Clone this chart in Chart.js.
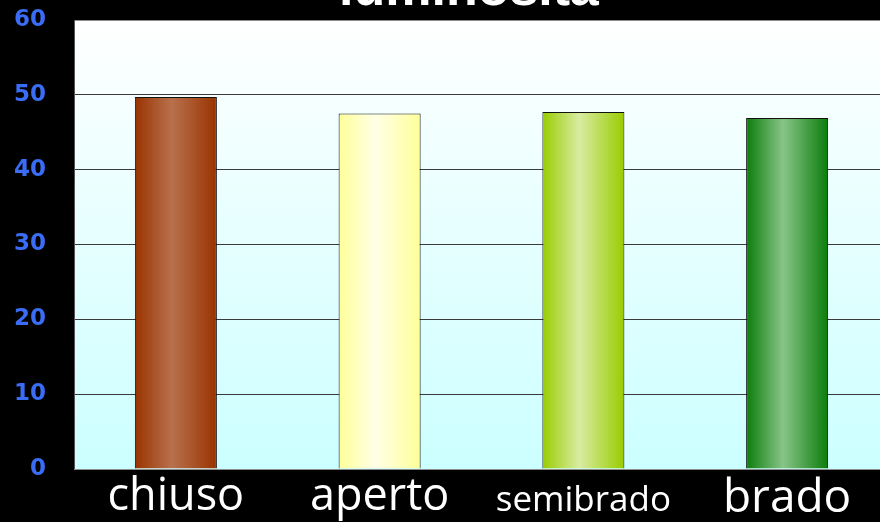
<!DOCTYPE html>
<html>
<head>
<meta charset="utf-8">
<script src="https://cdn.jsdelivr.net/npm/chart.js@4/dist/chart.umd.min.js"></script>
<style>
  html, body { margin: 0; padding: 0; background: #000; overflow: hidden; }
  canvas { display: block; }
</style>
</head>
<body>
<canvas id="chart" width="890" height="522"></canvas>
<script>
const title = "luminosità";
const categories = ["chiuso", "aperto", "semibrado", "brado"];
const values = [49.7, 47.5, 47.7, 46.9];
const yTicks = [0, 10, 20, 30, 40, 50, 60];

// bar colours: [edge, middle]
const barColors = [
  ["#993300", "#b8714d"],
  ["#ffff99", "#ffffe6"],
  ["#99cc00", "#d8eca2"],
  ["#0b7d0b", "#88c488"],
];
// label font sizes per category (the original mixes them)
const labelSizes = [45, 45, 35, 46];
const labelBaselines = [515, 515, 515, 517];

const barFrac = 0.4026;

const bgPlugin = {
  id: "plotBg",
  beforeDraw(chart) {
    const { ctx, chartArea: a } = chart;
    const g = ctx.createLinearGradient(0, a.top, 0, a.bottom);
    g.addColorStop(0, "#ffffff");
    g.addColorStop(1, "#ccffff");
    ctx.save();
    ctx.fillStyle = g;
    ctx.fillRect(a.left, a.top, a.right - a.left, a.bottom - a.top);
    ctx.restore();
  },
  afterDraw(chart) {
    const { ctx } = chart;
    ctx.save();
    ctx.fillStyle = "#fff";
    ctx.font = "bold 52px 'Liberation Sans', Arial, sans-serif";
    ctx.textAlign = "center";
    ctx.textBaseline = "alphabetic";
    ctx.fillText(title, 469, 5);
    ctx.restore();
  },
};

function barFill(c) {
  const chart = c.chart;
  const x = chart.scales.x;
  const cols = barColors[c.dataIndex] || barColors[0];
  if (!chart.chartArea || !x) return cols[0];
  const center = x.getPixelForValue(c.dataIndex);
  const half = (x.width / categories.length) * barFrac / 2;
  const g = chart.ctx.createLinearGradient(center - half, 0, center + half, 0);
  g.addColorStop(0, cols[0]);
  g.addColorStop(0.45, cols[1]);
  g.addColorStop(1, cols[0]);
  return g;
}

new Chart(document.getElementById("chart"), {
  type: "bar",
  data: {
    labels: categories,
    datasets: [{
      data: values,
      backgroundColor: barFill,
      borderColor: "#111111",
      borderWidth: 1,
      barPercentage: barFrac,
      categoryPercentage: 1,
    }],
  },
  options: {
    responsive: false,
    animation: false,
    devicePixelRatio: 1,
    layout: { padding: { top: 20, right: 1, left: 0, bottom: 0 } },
    plugins: { legend: { display: false }, tooltip: { enabled: false }, title: { display: false } },
    scales: {
      y: {
        min: 0,
        max: 60,
        afterBuildTicks: (s) => { s.ticks = yTicks.map((v) => ({ value: v })); },
        afterFit: (s) => { s.width = 74; s.paddingTop = 0; s.paddingBottom = 0; },
        ticks: {
          color: "#3a6cf5",
          padding: 28,
          font: { family: "'DejaVu Sans', sans-serif", size: 23, weight: "bold" },
        },
        grid: {
          drawTicks: false,
          color: (c) => (c.tick && (c.tick.value === 60 || c.tick.value === 0) ? "#8c8c8c" : "#3a3a3a"),
          lineWidth: 1,
        },
        border: { color: "#555555" },
      },
      x: {
        afterFit: (s) => { s.height = 53; s.paddingLeft = 0; s.paddingRight = 0; },
        grid: { display: false, drawTicks: false },
        border: { color: "#8c8c8c" },
        ticks: {
          color: "#ffffff",
          padding: 0,
          maxRotation: 0,
          autoSkip: false,
          font: (c) => {
            const size = labelSizes[c.index] || 40;
            const base = labelBaselines[c.index] || 512;
            return {
              family: "'Open Sans', sans-serif",
              size: size,
              lineHeight: 2 * (base - 469 - 0.388 * size) + "px",
            };
          },
        },
      },
    },
  },
  plugins: [bgPlugin],
});
</script>
</body>
</html>
